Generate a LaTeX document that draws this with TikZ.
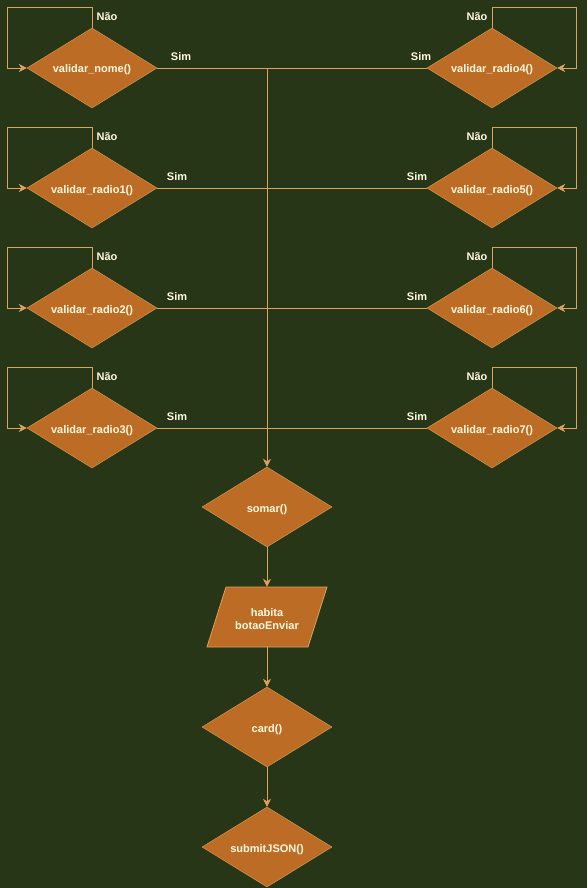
\documentclass[tikz,border=0pt]{standalone}
\usepackage{fontspec}
\setmainfont{Liberation Sans}
\usetikzlibrary{shapes.geometric,arrows.meta}
\definecolor{bg}{HTML}{283618}
\definecolor{boxfill}{HTML}{BC6C25}
\definecolor{edge}{HTML}{DDA15E}
\definecolor{txt}{HTML}{FEFAE0}
\tikzset{
  dec/.style={diamond, draw=edge, fill=boxfill, text=txt, font=\bfseries\fontsize{11pt}{13pt}\selectfont,
    minimum width=130pt, minimum height=80pt, inner sep=0pt, aspect=1.625,
    text height=10pt, text depth=0pt},
  parabox/.style={rectangle, minimum width=100pt, minimum height=60pt, inner sep=0pt},
  parashape/.style={draw=edge, fill=boxfill, line width=0.8pt},
  lbl/.style={text=txt, font=\bfseries\fontsize{11pt}{13pt}\selectfont, inner sep=0pt},
  conn/.style={draw=edge, line width=0.8pt},
  arr/.style={conn, -{Stealth[length=8pt,width=8pt,inset=2.5pt]}}
}
\begin{document}
\begin{tikzpicture}[x=1pt,y=-1pt]
\fill[bg] (0,0) rectangle (587,888);
\useasboundingbox (0,0) rectangle (587,888);
% left column
\node[dec] (L1) at (92,68) {validar\_nome()};
\node[dec] (L2) at (92,188) {validar\_radio1()};
\node[dec] (L3) at (92,308) {validar\_radio2()};
\node[dec] (L4) at (92,428) {validar\_radio3()};
% right column
\node[dec] (R1) at (492,68) {validar\_radio4()};
\node[dec] (R2) at (492,188) {validar\_radio5()};
\node[dec] (R3) at (492,308) {validar\_radio6()};
\node[dec] (R4) at (492,428) {validar\_radio7()};
% center
\node[dec] (somar) at (267,507) {somar()};
\filldraw[parashape] (226,587) -- (327,587) -- (308,647) -- (207,647) -- cycle;
\node[parabox] (hab) at (267,617) {};
\node[lbl, align=center] (habtxt) at (267,619) {habita\\botaoEnviar};
\node[dec] (card) at (267,727) {card()};
\node[dec] (submit) at (267,847) {submitJSON()};
% horizontal connectors and loops
\foreach \i in {1,2,3,4} {
  \draw[conn] (L\i.east) -- (R\i.west);
  \draw[arr] (L\i.north) -- ++(0,-20) -| ([xshift=-19pt]L\i.west) -- (L\i.west);
  \draw[arr] (R\i.north) -- ++(0,-20) -| ([xshift=19pt]R\i.east) -- (R\i.east);
}
\coordinate (j) at (267,68);
\draw[arr] (j) -- (somar.north);
\draw[arr] (somar.south) -- (hab.north);
\draw[arr] (hab.south) -- (card.north);
\draw[arr] (card.south) -- (submit.north);
% labels
\foreach \i/\y in {1/17,2/137,3/257,4/377} {
  \node[lbl] (nl\i) at (107,\y) {Não};
  \node[lbl] (nr\i) at (477,\y) {Não};
}
\node[lbl] (sl1) at (181,57) {Sim};
\node[lbl] (sr1) at (421,57) {Sim};
\foreach \i/\y in {2/177,3/297,4/417} {
  \node[lbl] (sl\i) at (177,\y) {Sim};
  \node[lbl] (sr\i) at (417,\y) {Sim};
}
\end{tikzpicture}
\end{document}
